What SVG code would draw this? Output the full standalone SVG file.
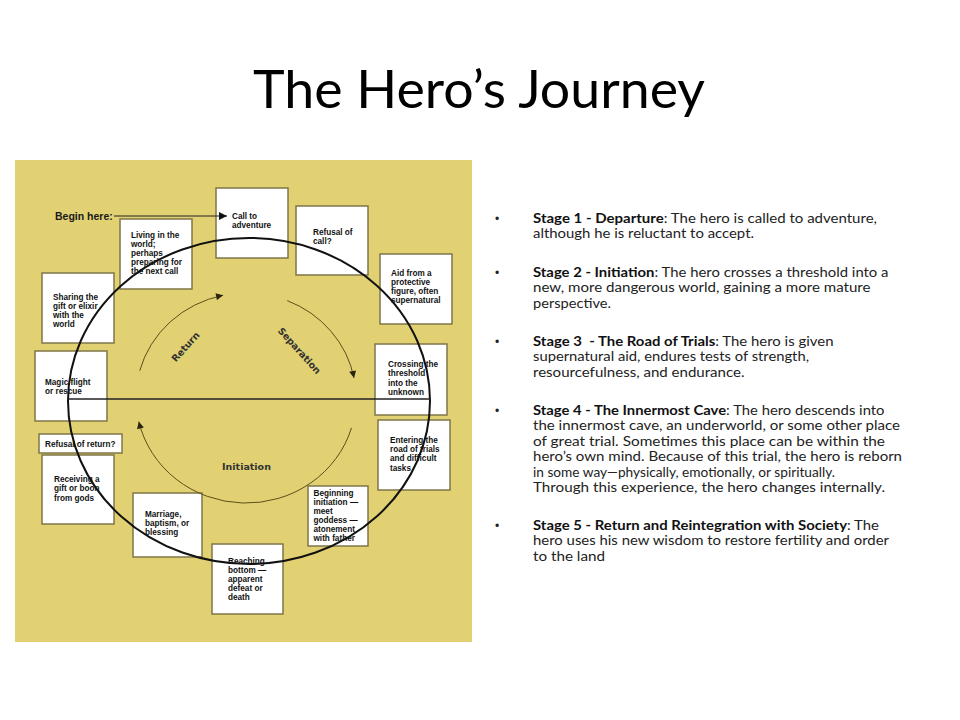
<svg xmlns="http://www.w3.org/2000/svg" width="960" height="720" viewBox="0 0 960 720">
<defs>
<style>
.box rect{fill:#fff;stroke:#7f7648;stroke-width:1.5}
.box text{font-family:"Liberation Sans",Arial,sans-serif;font-weight:bold;font-size:8.2px;fill:#111}
.lbl{font-family:"DejaVu Sans",Verdana,sans-serif;font-weight:bold;font-size:9.5px;fill:#333}
.body{font-family:Lato,"Open Sans",sans-serif;font-size:13.2px;fill:#222}
.bul{font-family:"Liberation Sans",Arial,sans-serif;font-size:12px;fill:#222}
.b{font-weight:bold;fill:#111}
.ring{fill:none;stroke:#111;stroke-width:2}
.arc{fill:none;stroke:#5b4f1c;stroke-width:1}
.ln{fill:none;stroke:#222;stroke-width:1.6}
</style>
<marker id="ah" viewBox="0 0 10 10" refX="10" refY="5" markerWidth="9" markerHeight="8" markerUnits="userSpaceOnUse" orient="auto"><path d="M0,0 L10,5 L0,10 z" fill="#111"/></marker>
<marker id="ahs" viewBox="0 0 10 10" refX="10" refY="5" markerWidth="8" markerHeight="7" markerUnits="userSpaceOnUse" orient="auto"><path d="M0,0 L10,5 L0,10 z" fill="#2a2410"/></marker>
</defs>
<rect width="960" height="720" fill="#fff"/>
<text x="253" y="108" font-family="Lato,'Open Sans',sans-serif" font-size="53" fill="#000" textLength="452" lengthAdjust="spacingAndGlyphs">The Hero’s Journey</text>

<rect id="panel" x="15" y="160" width="457" height="482" fill="#e1d172"/>

<g id="n-call" class="box"><rect x="216" y="188" width="72" height="70"/><text x="232" y="219">Call to<tspan x="232" y="228">adventure</tspan></text></g>
<g id="n-refusal" class="box"><rect x="296" y="206" width="72" height="69"/><text x="313" y="235">Refusal of<tspan x="313" y="244">call?</tspan></text></g>
<g id="n-aid" class="box"><rect x="380" y="254" width="72" height="70"/><text x="391" y="275.5">Aid from a<tspan x="391" y="284.5">protective</tspan><tspan x="391" y="293.5">figure, often</tspan><tspan x="391" y="302.5">supernatural</tspan></text></g>
<g id="n-crossing" class="box"><rect x="375" y="344" width="72" height="71"/><text x="388" y="367">Crossing the<tspan x="388" y="376">threshold</tspan><tspan x="388" y="385.5">into the</tspan><tspan x="388" y="394.5">unknown</tspan></text></g>
<g id="n-entering" class="box"><rect x="378" y="420" width="72" height="70"/><text x="390" y="443">Entering the<tspan x="390" y="452">road of trials</tspan><tspan x="390" y="461">and difficult</tspan><tspan x="390" y="470.5">tasks</tspan></text></g>
<g id="n-beginning" class="box"><rect x="308" y="486" width="60" height="60"/><text x="313.5" y="496">Beginning<tspan x="313.5" y="505">initiation —</tspan><tspan x="313.5" y="514">meet</tspan><tspan x="313.5" y="523">goddess —</tspan><tspan x="313.5" y="532">atonement</tspan><tspan x="313.5" y="541">with father</tspan></text></g>
<g id="n-reaching" class="box"><rect x="212" y="544" width="71" height="70"/><text x="228" y="564">Reaching<tspan x="228" y="573">bottom —</tspan><tspan x="228" y="582">apparent</tspan><tspan x="228" y="591">defeat or</tspan><tspan x="228" y="600">death</tspan></text></g>
<g id="n-marriage" class="box"><rect x="133" y="493" width="69" height="64"/><text x="145" y="517">Marriage,<tspan x="145" y="526">baptism, or</tspan><tspan x="145" y="535">blessing</tspan></text></g>
<g id="n-receiving" class="box"><rect x="42" y="455" width="72" height="69"/><text x="54" y="482">Receiving a<tspan x="54" y="491">gift or boon</tspan><tspan x="54" y="500.5">from gods</tspan></text></g>
<g id="n-refusal-return" class="box"><rect x="39" y="434" width="83" height="19"/><text x="45" y="447">Refusal of return?</text></g>
<g id="n-magic" class="box"><rect x="35" y="351" width="72" height="70"/><text x="45" y="385">Magic flight<tspan x="45" y="394">or rescue</tspan></text></g>
<g id="n-sharing" class="box"><rect x="42" y="273" width="72" height="70"/><text x="53" y="300">Sharing the<tspan x="53" y="309">gift or elixir</tspan><tspan x="53" y="318">with the</tspan><tspan x="53" y="327">world</tspan></text></g>
<g id="n-living" class="box"><rect x="120" y="219" width="72" height="70"/><text x="131" y="238">Living in the<tspan x="131" y="247">world;</tspan><tspan x="131" y="256">perhaps</tspan><tspan x="131" y="265">preparing for</tspan><tspan x="131" y="274">the next call</tspan></text></g>

<g id="n-begin"><text x="55" y="219.5" font-family="'Liberation Sans',Arial,sans-serif" font-weight="bold" font-size="10.5" fill="#1a1a1a">Begin here:</text></g>

<g id="connectors">
<ellipse class="ring" cx="249" cy="401" rx="181" ry="163"/>
<path class="ln" d="M68,399 H430"/>
<path d="M114,216 H227" fill="none" stroke="#222" stroke-width="1" marker-end="url(#ah)"/>
<path class="arc" d="M139.7,370.8 A110,105 0 0 1 223.1,295.3" marker-end="url(#ahs)"/>
<path class="arc" d="M287.2,300.6 A110,105 0 0 1 354,378" marker-end="url(#ahs)"/>
<path class="arc" d="M351.5,427.8 A110,105 0 0 1 138.8,421.6" marker-end="url(#ahs)"/>
</g>

<g id="phase-labels">
<text class="lbl" text-anchor="middle" transform="translate(188,349) rotate(-48)">Return</text>
<text class="lbl" text-anchor="middle" transform="translate(297,353) rotate(48)">Separation</text>
<text class="lbl" text-anchor="middle" x="246.5" y="470">Initiation</text>
</g>

<g id="stages">
<text class="bul" x="495" y="222.5">•</text>
<text class="body" x="533" y="222.5" textLength="344" lengthAdjust="spacingAndGlyphs"><tspan class="b">Stage 1 - Departure</tspan>: The hero is called to adventure,</text>
<text class="body" x="533" y="238" textLength="221" lengthAdjust="spacingAndGlyphs">although he is reluctant to accept.</text>

<text class="bul" x="495" y="276.5">•</text>
<text class="body" x="533" y="276.5" textLength="355.5" lengthAdjust="spacingAndGlyphs"><tspan class="b">Stage 2 - Initiation</tspan>: The hero crosses a threshold into a</text>
<text class="body" x="533" y="292" textLength="337.5" lengthAdjust="spacingAndGlyphs">new, more dangerous world, gaining a more mature</text>
<text class="body" x="533" y="307.5" textLength="78" lengthAdjust="spacingAndGlyphs">perspective.</text>

<text class="bul" x="495" y="345.5">•</text>
<text class="body" x="533" y="345.5" textLength="300.5" lengthAdjust="spacingAndGlyphs"><tspan class="b">Stage 3 &#160;- The Road of Trials</tspan>: The hero is given</text>
<text class="body" x="533" y="361" textLength="276" lengthAdjust="spacingAndGlyphs">supernatural aid, endures tests of strength,</text>
<text class="body" x="533" y="376.5" textLength="211.5" lengthAdjust="spacingAndGlyphs">resourcefulness, and endurance.</text>

<text class="bul" x="495" y="414.5">•</text>
<text class="body" x="533" y="414.5" textLength="351.5" lengthAdjust="spacingAndGlyphs"><tspan class="b">Stage 4 - The Innermost Cave</tspan>: The hero descends into</text>
<text class="body" x="533" y="430" textLength="367" lengthAdjust="spacingAndGlyphs">the innermost cave, an underworld, or some other place</text>
<text class="body" x="533" y="445.5" textLength="352" lengthAdjust="spacingAndGlyphs">of great trial. Sometimes this place can be within the</text>
<text class="body" x="533" y="461" textLength="369" lengthAdjust="spacingAndGlyphs">hero’s own mind. Because of this trial, the hero is reborn</text>
<text class="body" x="533" y="476.5" textLength="302" lengthAdjust="spacingAndGlyphs">in some way—physically, emotionally, or spiritually.</text>
<text class="body" x="533" y="492" textLength="352" lengthAdjust="spacingAndGlyphs">Through this experience, the hero changes internally.</text>

<text class="bul" x="495" y="529.5">•</text>
<text class="body" x="533" y="529.5" textLength="346" lengthAdjust="spacingAndGlyphs"><tspan class="b">Stage 5 - Return and Reintegration with Society</tspan>: The</text>
<text class="body" x="533" y="545" textLength="356" lengthAdjust="spacingAndGlyphs">hero uses his new wisdom to restore fertility and order</text>
<text class="body" x="533" y="560.5" textLength="72" lengthAdjust="spacingAndGlyphs">to the land</text>
</g>
</svg>
